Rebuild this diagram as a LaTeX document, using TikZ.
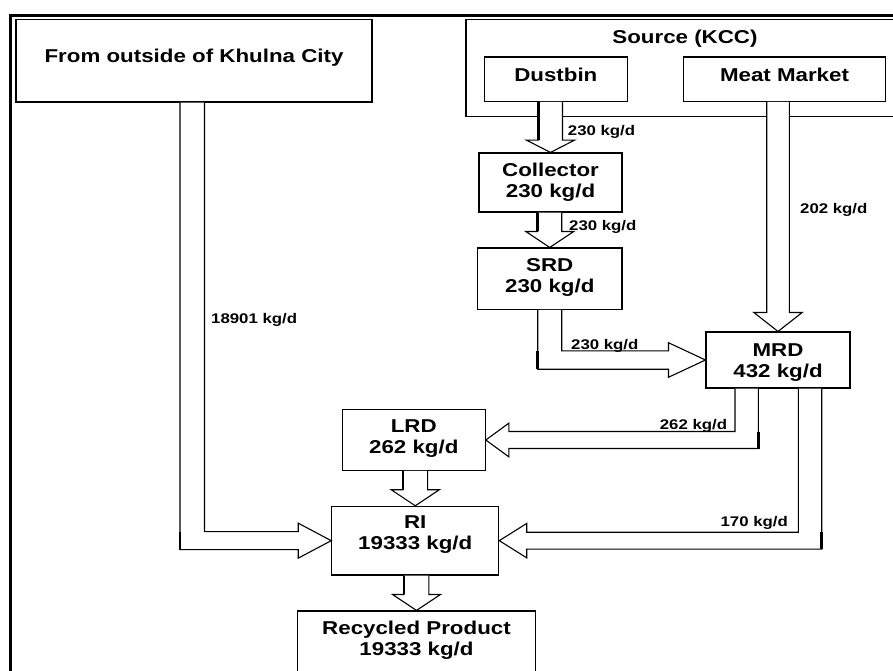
\documentclass[tikz,border=0pt]{standalone}
\usepackage{fontspec}
\usepackage{graphicx}
\setmainfont{Liberation Sans}
\usetikzlibrary{calc}

% wide-set lettering used throughout the chart
\newcommand{\stx}[1]{\scalebox{1.2}[1]{#1}}

% vertical block arrow from the bottom of #1 to the top of #2
% #3 shaft half width, #4 head half width, #5 head length
\newcommand{\downflow}[5]{%
  \draw[flow] let \p1=(#1.south), \p2=(#2.north) in
    (\x2-#3,\y1) -- (\x2-#3,\y2+#5) -- (\x2-#4,\y2+#5) -- (\p2)
    -- (\x2+#4,\y2+#5) -- (\x2+#3,\y2+#5) -- (\x2+#3,\y1);
  \draw[heavy] let \p1=(#1.south), \p2=(#2.north) in
    (\x2-#3,\y1) -- (\x2-#3,\y2+#5);}

\tikzset{
  box/.style={draw=black, line width=1.1pt, fill=white, inner sep=0pt, align=center,
    font=\bfseries\fontsize{18.6}{21}\selectfont},
  onebox/.style={box, text height=13.6pt, text depth=9.2pt},
  twobox/.style={box, text height=34.6pt},
  title/.style={inner sep=0pt, font=\bfseries\fontsize{18.6}{21}\selectfont},
  qty/.style={inner sep=0pt, font=\bfseries\fontsize{14}{16}\selectfont},
  flow/.style={draw=black, line width=1.1pt, fill=white, line join=miter},
  heavy/.style={draw=black, line width=2.6pt},
}

\begin{document}
\begin{tikzpicture}[x=1pt, y=-1pt]
\useasboundingbox (0,0) rectangle (893,671);
\clip (0,0) rectangle (893,671);

% outer frame
\draw[line width=2.6pt] (10.5,15.3) rectangle (910,700);

% boxes
\node[onebox, minimum width=356pt, minimum height=82.7pt]
  (outside) at (194,60.65) {\stx{From outside of Khulna City}};
\node[box, minimum width=440pt, minimum height=97pt] (source) at (686,67.65) {};
\node[title, anchor=base] (sourcetitle) at (685,43.3) {\stx{Source (KCC)}};
\node[onebox, minimum width=143pt, minimum height=44.3pt]
  (dustbin) at (555.8,79.15) {\stx{Dustbin}};
\node[onebox, minimum width=201.6pt, minimum height=44.3pt]
  (meat) at (784.5,79.15) {\stx{Meat Market}};
\node[twobox, minimum width=143pt, minimum height=59pt, text depth=4.2pt]
  (collector) at (550.5,182.5) {\stx{Collector}\\\stx{230 kg/d}};
\node[twobox, minimum width=144.5pt, minimum height=61.3pt, text depth=7.2pt]
  (srd) at (549.75,278.65) {\stx{SRD}\\\stx{230 kg/d}};
\node[twobox, minimum width=144pt, minimum height=56pt, text depth=0.2pt]
  (mrd) at (778,360) {\stx{MRD}\\\stx{432 kg/d}};
\node[twobox, minimum width=143pt, minimum height=60.6pt, text depth=7.4pt]
  (lrd) at (413.75,440) {\stx{LRD}\\\stx{262 kg/d}};
\node[twobox, minimum width=167pt, minimum height=68.7pt, text depth=17.6pt]
  (ri) at (415.25,540.65) {\stx{RI}\\\stx{19333 kg/d}};
\node[twobox, minimum width=237.7pt, minimum height=84pt, text depth=30.2pt]
  (recycled) at (416.5,653) {\stx{Recycled Product}\\\stx{19333 kg/d}};

% straight downward flows
\downflow{dustbin}{collector}{12pt}{24pt}{12.3pt}
\downflow{collector}{srd}{12pt}{24pt}{16pt}
\downflow{lrd}{ri}{12.4pt}{24pt}{16pt}
\downflow{ri}{recycled}{12.4pt}{24pt}{16pt}
\draw[flow] let \p1=(meat.south), \p2=(mrd.north) in
  (\x2-11.3pt,\y1) -- (\x2-11.3pt,\y2+19pt) -- (\x2-24.2pt,\y2+19pt) -- (\p2)
  -- (\x2+24.2pt,\y2+19pt) -- (\x2+11.3pt,\y2+19pt) -- (\x2+11.3pt,\y1);

% bent flows
\draw[flow] let \p1=(outside.south), \p2=(ri.west) in
  (\x1-14pt,\y1) -- (\x1-14pt,\y2-9pt) -- (\x2-33pt,\y2-9pt) -- (\x2-33pt,\y2-17.5pt)
  -- (\p2) -- (\x2-33pt,\y2+17.5pt) -- (\x2-33pt,\y2+9pt) -- (\x1+10.5pt,\y2+9pt)
  -- (\x1+10.5pt,\y1);
\draw[heavy] let \p1=(outside.south), \p2=(ri.west) in
  (\x1-14pt,\y2+9pt) -- (\x1-14pt,\y2-9pt);

\draw[flow] let \p1=(srd.south), \p2=(mrd.west) in
  (\x1-12pt,\y1) -- (\x1-12pt,\y2-9.2pt) -- (\x2-37pt,\y2-9.2pt) -- (\x2-37pt,\y2-17.3pt)
  -- (\p2) -- (\x2-37pt,\y2+17.3pt) -- (\x2-37pt,\y2+9.2pt) -- (\x1+12pt,\y2+9.2pt)
  -- (\x1+12pt,\y1);
\draw[heavy] let \p1=(srd.south), \p2=(mrd.west) in
  (\x1-12pt,\y2+9.2pt) -- (\x1-12pt,\y2-9.2pt);

\draw[flow] let \p1=(mrd.south), \p2=(lrd.east) in
  (\x1-43pt,\y1) -- (\x1-43pt,\y2+8.5pt) -- (\x2+23pt,\y2+8.5pt) -- (\x2+23pt,\y2+16.8pt)
  -- (\p2) -- (\x2+23pt,\y2-16.8pt) -- (\x2+23pt,\y2-8.5pt) -- (\x1-19.7pt,\y2-8.5pt)
  -- (\x1-19.7pt,\y1);
\draw[heavy] let \p1=(mrd.south), \p2=(lrd.east) in
  (\x1-19.7pt,\y2+8.5pt) -- (\x1-19.7pt,\y2-8.5pt);

\draw[flow] let \p1=(mrd.south), \p2=(ri.east) in
  (\x1+20.4pt,\y1) -- (\x1+20.4pt,\y2+8.4pt) -- (\x2+27.4pt,\y2+8.4pt) -- (\x2+27.4pt,\y2+17.2pt)
  -- (\p2) -- (\x2+27.4pt,\y2-17.2pt) -- (\x2+27.4pt,\y2-8.4pt) -- (\x1+43.7pt,\y2-8.4pt)
  -- (\x1+43.7pt,\y1);
\draw[heavy] let \p1=(mrd.south), \p2=(ri.east) in
  (\x1+43.7pt,\y2+8.4pt) -- (\x1+43.7pt,\y2-8.4pt);

% quantities on the flows
\node[qty, anchor=base west] (q1) at (567.7,135.7) {\stx{230 kg/d}};
\node[qty, anchor=base west] (q2) at (569,230) {\stx{230 kg/d}};
\node[qty, anchor=base west] (q3) at (571,349) {\stx{230 kg/d}};
\node[qty, anchor=base west] (q4) at (800,213.3) {\stx{202 kg/d}};
\node[qty, anchor=base west] (q5) at (211,323.3) {\stx{18901 kg/d}};
\node[qty, anchor=base east] (q6) at (727.3,429.3) {\stx{262 kg/d}};
\node[qty, anchor=base east] (q7) at (788,526.7) {\stx{170 kg/d}};
\end{tikzpicture}
\end{document}
